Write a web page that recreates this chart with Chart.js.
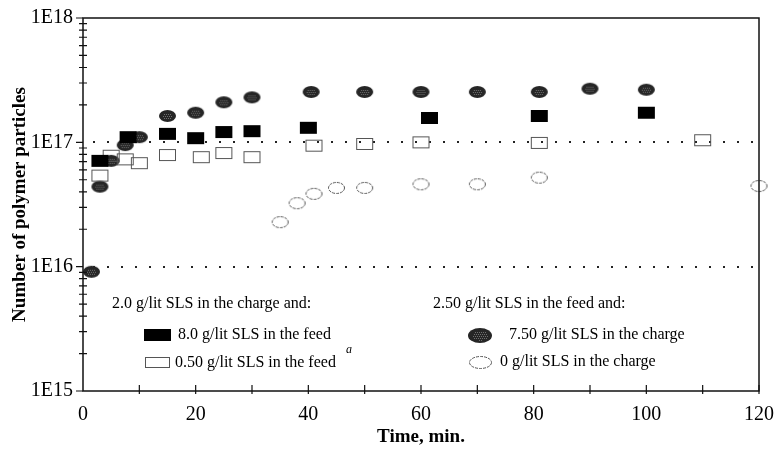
<!DOCTYPE html>
<html>
<head>
<meta charset="utf-8">
<script src="https://cdn.jsdelivr.net/npm/chart.js@4"></script>
<style>
  body { margin: 0; background: #fff; }
  canvas { display: block; }
</style>
</head>
<body>
<canvas id="particleChart" width="774" height="449"></canvas>
<script>
// time in minutes, particle counts
const feedHighTimes = [3, 8, 15, 20, 25, 30, 40, 61.5, 81, 100];
const feedHighCounts = [7.1e16, 1.1e17, 1.17e17, 1.08e17, 1.21e17, 1.23e17, 1.31e17, 1.57e17, 1.63e17, 1.73e17];

const feedLowTimes = [3, 5, 7.5, 10, 15, 21, 25, 30, 41, 50, 60, 81, 110];
const feedLowCounts = [5.4e16, 7.8e16, 7.3e16, 6.8e16, 7.9e16, 7.6e16, 8.2e16, 7.6e16, 9.4e16, 9.7e16, 1.0e17, 9.9e16, 1.04e17];

const chargeHighTimes = [1.5, 3, 5, 7.5, 10, 15, 20, 25, 30, 40.5, 50, 60, 70, 81, 90, 100];
const chargeHighCounts = [9.1e15, 4.4e16, 7.1e16, 9.5e16, 1.1e17, 1.63e17, 1.73e17, 2.1e17, 2.3e17, 2.54e17, 2.54e17, 2.54e17, 2.54e17, 2.54e17, 2.7e17, 2.65e17];

const chargeZeroTimes = [35, 38, 41, 45, 50, 60, 70, 81, 120];
const chargeZeroCounts = [2.28e16, 3.24e16, 3.85e16, 4.3e16, 4.3e16, 4.6e16, 4.6e16, 5.2e16, 4.45e16];

const yTickValues = [1e15, 1e16, 1e17, 1e18];
const xTickValues = [0, 10, 20, 30, 40, 50, 60, 70, 80, 90, 100, 110, 120];

const serif = "'Liberation Serif', 'Times New Roman', serif";

function toPoints(xs, ys) {
  return xs.map((x, i) => ({ x: x, y: ys[i] }));
}

// little canvases used as point styles (and for the legend)
function makeMarker(kind, w, h) {
  const c = document.createElement("canvas");
  c.width = w + 2;
  c.height = h + 2;
  const g = c.getContext("2d");
  if (kind === "filledRect") {
    g.fillStyle = "#000";
    g.fillRect(1, 1, w, h);
  } else if (kind === "openRect") {
    g.strokeStyle = "#555";
    g.lineWidth = 1;
    g.strokeRect(1.5, 1.5, w - 1, h - 1);
  } else if (kind === "filledEllipse") {
    g.fillStyle = "#262626";
    g.beginPath();
    g.ellipse(c.width / 2, c.height / 2, w / 2, h / 2, 0, 0, Math.PI * 2);
    g.fill();
    g.fillStyle = "#6e6e6e";
    for (let py = 3; py < h; py += 2) {
      for (let px = 3 + (py % 4 === 1 ? 1 : 0); px < w - 1; px += 2) {
        const dx = (px - c.width / 2) / (w / 2 - 2);
        const dy = (py - c.height / 2) / (h / 2 - 2);
        if (dx * dx + dy * dy < 0.7) g.fillRect(px, py, 1, 1);
      }
    }
  } else {
    g.strokeStyle = "#555";
    g.lineWidth = 1;
    g.setLineDash([3, 1]);
    g.beginPath();
    g.ellipse(c.width / 2, c.height / 2, w / 2 - 0.5, h / 2 - 0.5, 0, 0, Math.PI * 2);
    g.stroke();
  }
  return c;
}

const markers = {
  filledRect: makeMarker("filledRect", 17, 12),
  openRect: makeMarker("openRect", 17, 12),
  filledEllipse: makeMarker("filledEllipse", 17, 12),
  openEllipse: makeMarker("openEllipse", 17, 12)
};

const legendMarkers = {
  filledRect: makeMarker("filledRect", 27, 12),
  openRect: makeMarker("openRect", 25, 11),
  filledEllipse: makeMarker("filledEllipse", 24, 15),
  openEllipse: makeMarker("openEllipse", 23, 13)
};

const frameAndLegend = {
  id: "frameAndLegend",
  beforeDatasetsDraw(chart) {
    const { ctx, chartArea, scales } = chart;
    ctx.save();
    ctx.strokeStyle = "#222";
    ctx.lineWidth = 2;
    ctx.setLineDash([2, 12]);
    [1e16, 1e17].forEach((v) => {
      const y = Math.round(scales.y.getPixelForValue(v));
      ctx.beginPath();
      ctx.moveTo(chartArea.left + 10, y);
      ctx.lineTo(chartArea.right, y);
      ctx.stroke();
    });
    ctx.restore();
  },
  afterDraw(chart) {
    const { ctx, chartArea, scales } = chart;
    const { left, right, top, bottom } = chartArea;
    ctx.save();
    ctx.strokeStyle = "#111";
    ctx.lineWidth = 1.5;
    ctx.strokeRect(left, top, right - left, bottom - top);

    ctx.lineWidth = 1.2;
    ctx.beginPath();
    // y ticks: major outside, minor crossing the axis
    for (let d = 15; d <= 18; d++) {
      const y = scales.y.getPixelForValue(Math.pow(10, d));
      ctx.moveTo(left - 7, y);
      ctx.lineTo(left, y);
      if (d === 18) break;
      for (let m = 2; m <= 9; m++) {
        const ym = scales.y.getPixelForValue(m * Math.pow(10, d));
        ctx.moveTo(left - 4, ym);
        ctx.lineTo(left + 4, ym);
      }
    }
    // x ticks crossing the axis
    xTickValues.forEach((v) => {
      if (v === 0) return;
      const x = scales.x.getPixelForValue(v);
      ctx.moveTo(x, bottom - 6);
      ctx.lineTo(x, bottom + 3);
    });
    ctx.stroke();

    // legend block inside the plot
    ctx.fillStyle = "#000";
    ctx.font = "16px " + serif;
    ctx.textBaseline = "middle";
    ctx.textAlign = "left";
    ctx.fillText("2.0 g/lit SLS in the charge and:", 112, 304);
    ctx.fillText("8.0 g/lit SLS in the feed", 178, 335);
    ctx.fillText("0.50 g/lit SLS in the feed", 175, 363);
    ctx.font = "italic 12px " + serif;
    ctx.fillText("a", 346, 350);
    ctx.font = "16px " + serif;
    ctx.fillText("2.50 g/lit SLS in the feed and:", 433, 304);
    ctx.fillText("7.50 g/lit SLS in the charge", 509, 335);
    ctx.fillText("0 g/lit SLS in the charge", 500, 362);

    const put = (img, cx, cy) => ctx.drawImage(img, Math.round(cx - img.width / 2), Math.round(cy - img.height / 2));
    put(legendMarkers.filledRect, 157, 335);
    put(legendMarkers.openRect, 157, 362);
    put(legendMarkers.filledEllipse, 480, 335);
    put(legendMarkers.openEllipse, 480, 362);
    ctx.restore();
  }
};

new Chart(document.getElementById("particleChart"), {
  type: "scatter",
  data: {
    datasets: [
      {
        label: "8.0 g/lit SLS in the feed",
        data: toPoints(feedHighTimes, feedHighCounts),
        pointStyle: markers.filledRect,
        clip: false
      },
      {
        label: "0.50 g/lit SLS in the feed",
        data: toPoints(feedLowTimes, feedLowCounts),
        pointStyle: markers.openRect,
        clip: false
      },
      {
        label: "7.50 g/lit SLS in the charge",
        data: toPoints(chargeHighTimes, chargeHighCounts),
        pointStyle: markers.filledEllipse,
        clip: false
      },
      {
        label: "0 g/lit SLS in the charge",
        data: toPoints(chargeZeroTimes, chargeZeroCounts),
        pointStyle: markers.openEllipse,
        clip: false
      }
    ]
  },
  plugins: [frameAndLegend],
  options: {
    responsive: false,
    animation: false,
    layout: { padding: { left: 0, right: 15, top: 18, bottom: 0 } },
    plugins: {
      legend: { display: false },
      tooltip: { enabled: false }
    },
    scales: {
      x: {
        type: "linear",
        min: 0,
        max: 120,
        afterBuildTicks: (scale) => {
          scale.ticks = xTickValues.map((v) => ({ value: v }));
        },
        afterFit: (scale) => {
          scale.height = 58;
          scale.paddingLeft = 0;
          scale.paddingRight = 0;
        },
        grid: { display: false, drawTicks: false },
        border: { display: false },
        ticks: {
          padding: 12,
          color: "#000",
          font: { family: serif, size: 20 },
          maxRotation: 0,
          autoSkip: false,
          callback: (v) => (v % 20 === 0 ? String(v) : "")
        },
        title: {
          display: true,
          text: "Time, min.",
          color: "#000",
          font: { family: serif, size: 19, weight: "bold" },
          padding: { top: 0, bottom: 1 }
        }
      },
      y: {
        type: "logarithmic",
        min: 1e15,
        max: 1e18,
        afterBuildTicks: (scale) => {
          scale.ticks = yTickValues.map((v) => ({ value: v }));
        },
        afterFit: (scale) => {
          scale.width = 83;
          scale.paddingTop = 0;
          scale.paddingBottom = 0;
        },
        grid: { display: false, drawTicks: false },
        border: { display: false },
        ticks: {
          padding: 10,
          color: "#000",
          font: { family: serif, size: 20 },
          callback: (v) => "1E" + Math.round(Math.log10(v))
        },
        title: {
          display: true,
          text: "Number of polymer particles",
          color: "#000",
          font: { family: serif, size: 19, weight: "bold" },
          padding: { top: 9, bottom: 0 }
        }
      }
    }
  }
});
</script>
</body>
</html>
